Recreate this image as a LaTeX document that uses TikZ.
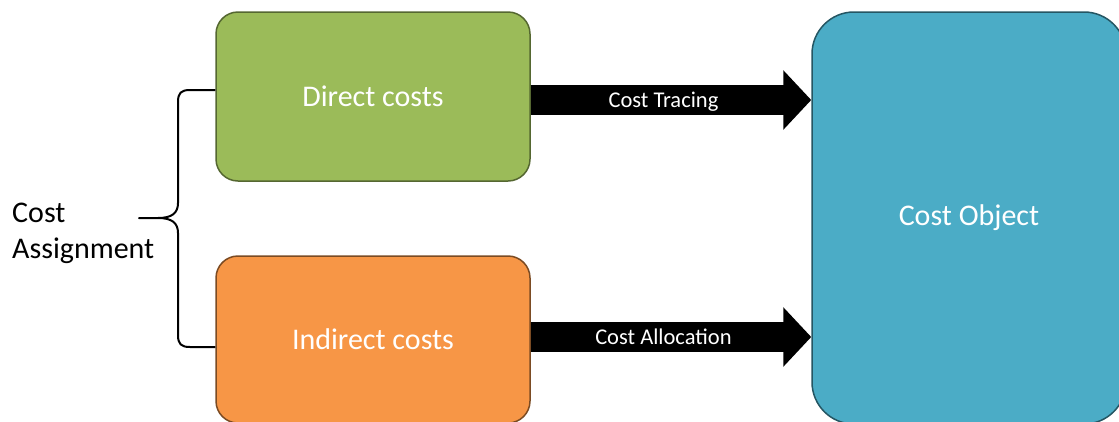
\documentclass[tikz,border=0pt]{standalone}
\usepackage{fontspec}
\setmainfont{Carlito}
\usetikzlibrary{arrows.meta}
\definecolor{greenfill}{HTML}{9BBB59}
\definecolor{orangefill}{HTML}{F79646}
\definecolor{bluefill}{HTML}{4BACC6}
\begin{document}
\begin{tikzpicture}[x=1pt,y=-1pt,
  costbox/.style={draw, rounded corners=22pt, line width=1.5pt, inner sep=0pt,
    text=white, font=\fontsize{30}{36}\selectfont},
  flow/.style={line width=30pt, -{Triangle[length=28pt,width=58pt]}},
  flowlabel/.style={text=white, font=\fontsize{22.5}{27}\selectfont, pos=0.473,
    text depth=0pt},
  bracket/.style={line width=2pt, line join=round}]
\useasboundingbox (0,0) rectangle (1119,421);

% cost boxes
\node[costbox, fill=greenfill, draw=greenfill!55!black,
  minimum width=314pt, minimum height=169pt] (direct) at (373,96.5) {Direct costs};
\node[costbox, fill=orangefill, draw=orangefill!50!black,
  minimum width=314pt, minimum height=167pt] (indirect) at (373,339.5) {Indirect costs};
\node[costbox, fill=bluefill, draw=bluefill!50!black, rounded corners=42pt,
  minimum width=314pt, minimum height=412pt] (object) at (969,218) {Cost Object};

% flows into the cost object
\draw[flow] (direct.east |- 0,100) -- (object.west |- 0,100)
  node[flowlabel] {Cost Tracing};
\draw[flow] (indirect.east |- 0,337) -- (object.west |- 0,337)
  node[flowlabel] {Cost Allocation};

% brace grouping both cost types
\coordinate (btop) at (direct.west |- 0,90);
\coordinate (bbot) at (indirect.west |- 0,347);
\coordinate (btip) at (139,218);
\draw[bracket] (btop) -- (190,90) .. controls (181,90) and (178,93) .. (178,102)
  -- (178,203) .. controls (178,213) and (172,218) .. (158,218) -- (btip)
  -- (158,218) .. controls (172,218) and (178,223) .. (178,233)
  -- (178,335) .. controls (178,344) and (181,347) .. (190,347) -- (bbot);

\node[anchor=west, align=left, inner sep=0pt, font=\fontsize{30}{36}\selectfont]
  (assign) at (12,233.5) {Cost\\Assignment};
\end{tikzpicture}
\end{document}
